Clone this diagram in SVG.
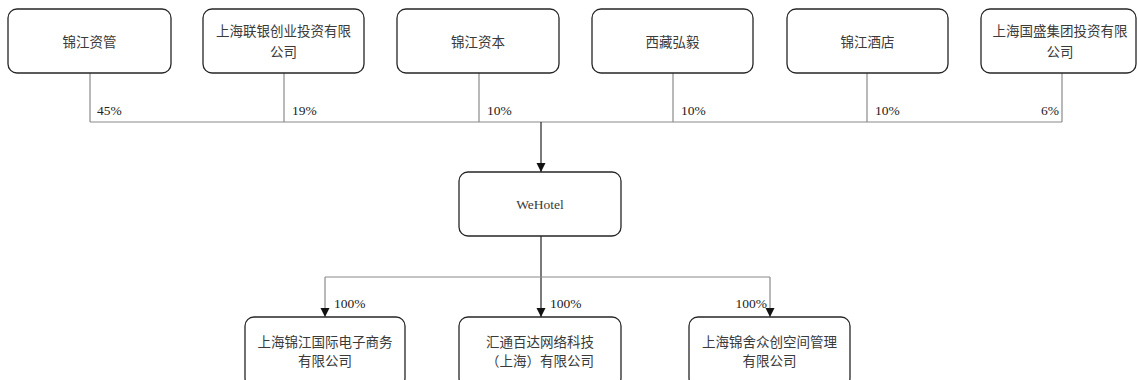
<svg xmlns="http://www.w3.org/2000/svg" width="1138" height="380" viewBox="0 0 1138 380">
<defs>
<style>
.box{fill:#fff;stroke:#262626;stroke-width:1.3}
.t{font-family:"Liberation Serif","Noto Sans CJK SC",serif;font-size:13.5px;fill:#3a3a3a;text-anchor:middle}
.p{font-family:"Liberation Serif","Noto Sans CJK SC",serif;font-size:13.5px;fill:#222}
.g{stroke:#8a8a8a;stroke-width:1.2;fill:none}
.k{stroke:#222;stroke-width:1.2;fill:none}
</style>
<marker id="ah" markerWidth="10" markerHeight="10" refX="5" refY="8" orient="auto-start-reverse" markerUnits="userSpaceOnUse" viewBox="0 0 10 10">
<path d="M0,0 L10,0 L5,9 Z" fill="#111" transform="rotate(-90 5 5)"/>
</marker>
<marker id="a2" markerWidth="10" markerHeight="10" refX="9" refY="5" orient="auto" markerUnits="userSpaceOnUse" viewBox="0 0 10 10">
<path d="M0,0.5 L9,5 L0,9.5 Z" fill="#111"/>
</marker>
</defs>
<g id="connectors">
<path class="g" d="M90,73 V122 M284,73 V122 M479,73 V122 M673,73 V122 M867,73 V122 M1062,73 V122 M90,122 H1062"/>
<path class="k" d="M541,122 V172" marker-end="url(#a2)"/>
<path class="k" d="M541,236 V317" marker-end="url(#a2)"/>
<path class="g" d="M325,277 H770"/>
<path class="g" d="M325,277 V317" marker-end="url(#a2)"/>
<path class="g" d="M770,277 V317" marker-end="url(#a2)"/>
<text class="p" x="97" y="115">45%</text>
<text class="p" x="292" y="115">19%</text>
<text class="p" x="487" y="115">10%</text>
<text class="p" x="681" y="115">10%</text>
<text class="p" x="875" y="115">10%</text>
<text class="p" x="1059" y="115" text-anchor="end">6%</text>
<text class="p" x="334" y="308">100%</text>
<text class="p" x="550" y="308">100%</text>
<text class="p" x="767" y="308" text-anchor="end">100%</text>
</g>
<g id="n1"><rect class="box" x="8" y="9" width="163" height="64" rx="9"/><text class="t" x="89.5" y="47">锦江资管</text></g>
<g id="n2"><rect class="box" x="203" y="9" width="161" height="64" rx="9"/><text class="t" x="283.5" y="36">上海联银创业投资有限</text><text class="t" x="283.5" y="57">公司</text></g>
<g id="n3"><rect class="box" x="397" y="9" width="162" height="64" rx="9"/><text class="t" x="478" y="47">锦江资本</text></g>
<g id="n4"><rect class="box" x="592" y="9" width="161" height="64" rx="9"/><text class="t" x="672.5" y="47">西藏弘毅</text></g>
<g id="n5"><rect class="box" x="787" y="9" width="161" height="64" rx="9"/><text class="t" x="867.5" y="47">锦江酒店</text></g>
<g id="n6"><rect class="box" x="981" y="9" width="155" height="64" rx="9"/><text class="t" x="1060" y="36">上海国盛集团投资有限</text><text class="t" x="1060" y="57">公司</text></g>
<g id="wehotel"><rect class="box" x="459" y="172" width="162" height="64" rx="9"/><text class="t" x="540" y="209">WeHotel</text></g>
<g id="c1"><rect class="box" x="245" y="317" width="160" height="70" rx="9"/><text class="t" x="325" y="347">上海锦江国际电子商务</text><text class="t" x="325" y="366">有限公司</text></g>
<g id="c2"><rect class="box" x="459" y="317" width="162" height="70" rx="9"/><text class="t" x="540" y="347">汇通百达网络科技</text><text class="t" x="540" y="366">（上海）有限公司</text></g>
<g id="c3"><rect class="box" x="689" y="317" width="161" height="70" rx="9"/><text class="t" x="769.5" y="347">上海锦舍众创空间管理</text><text class="t" x="769.5" y="366">有限公司</text></g>
</svg>
